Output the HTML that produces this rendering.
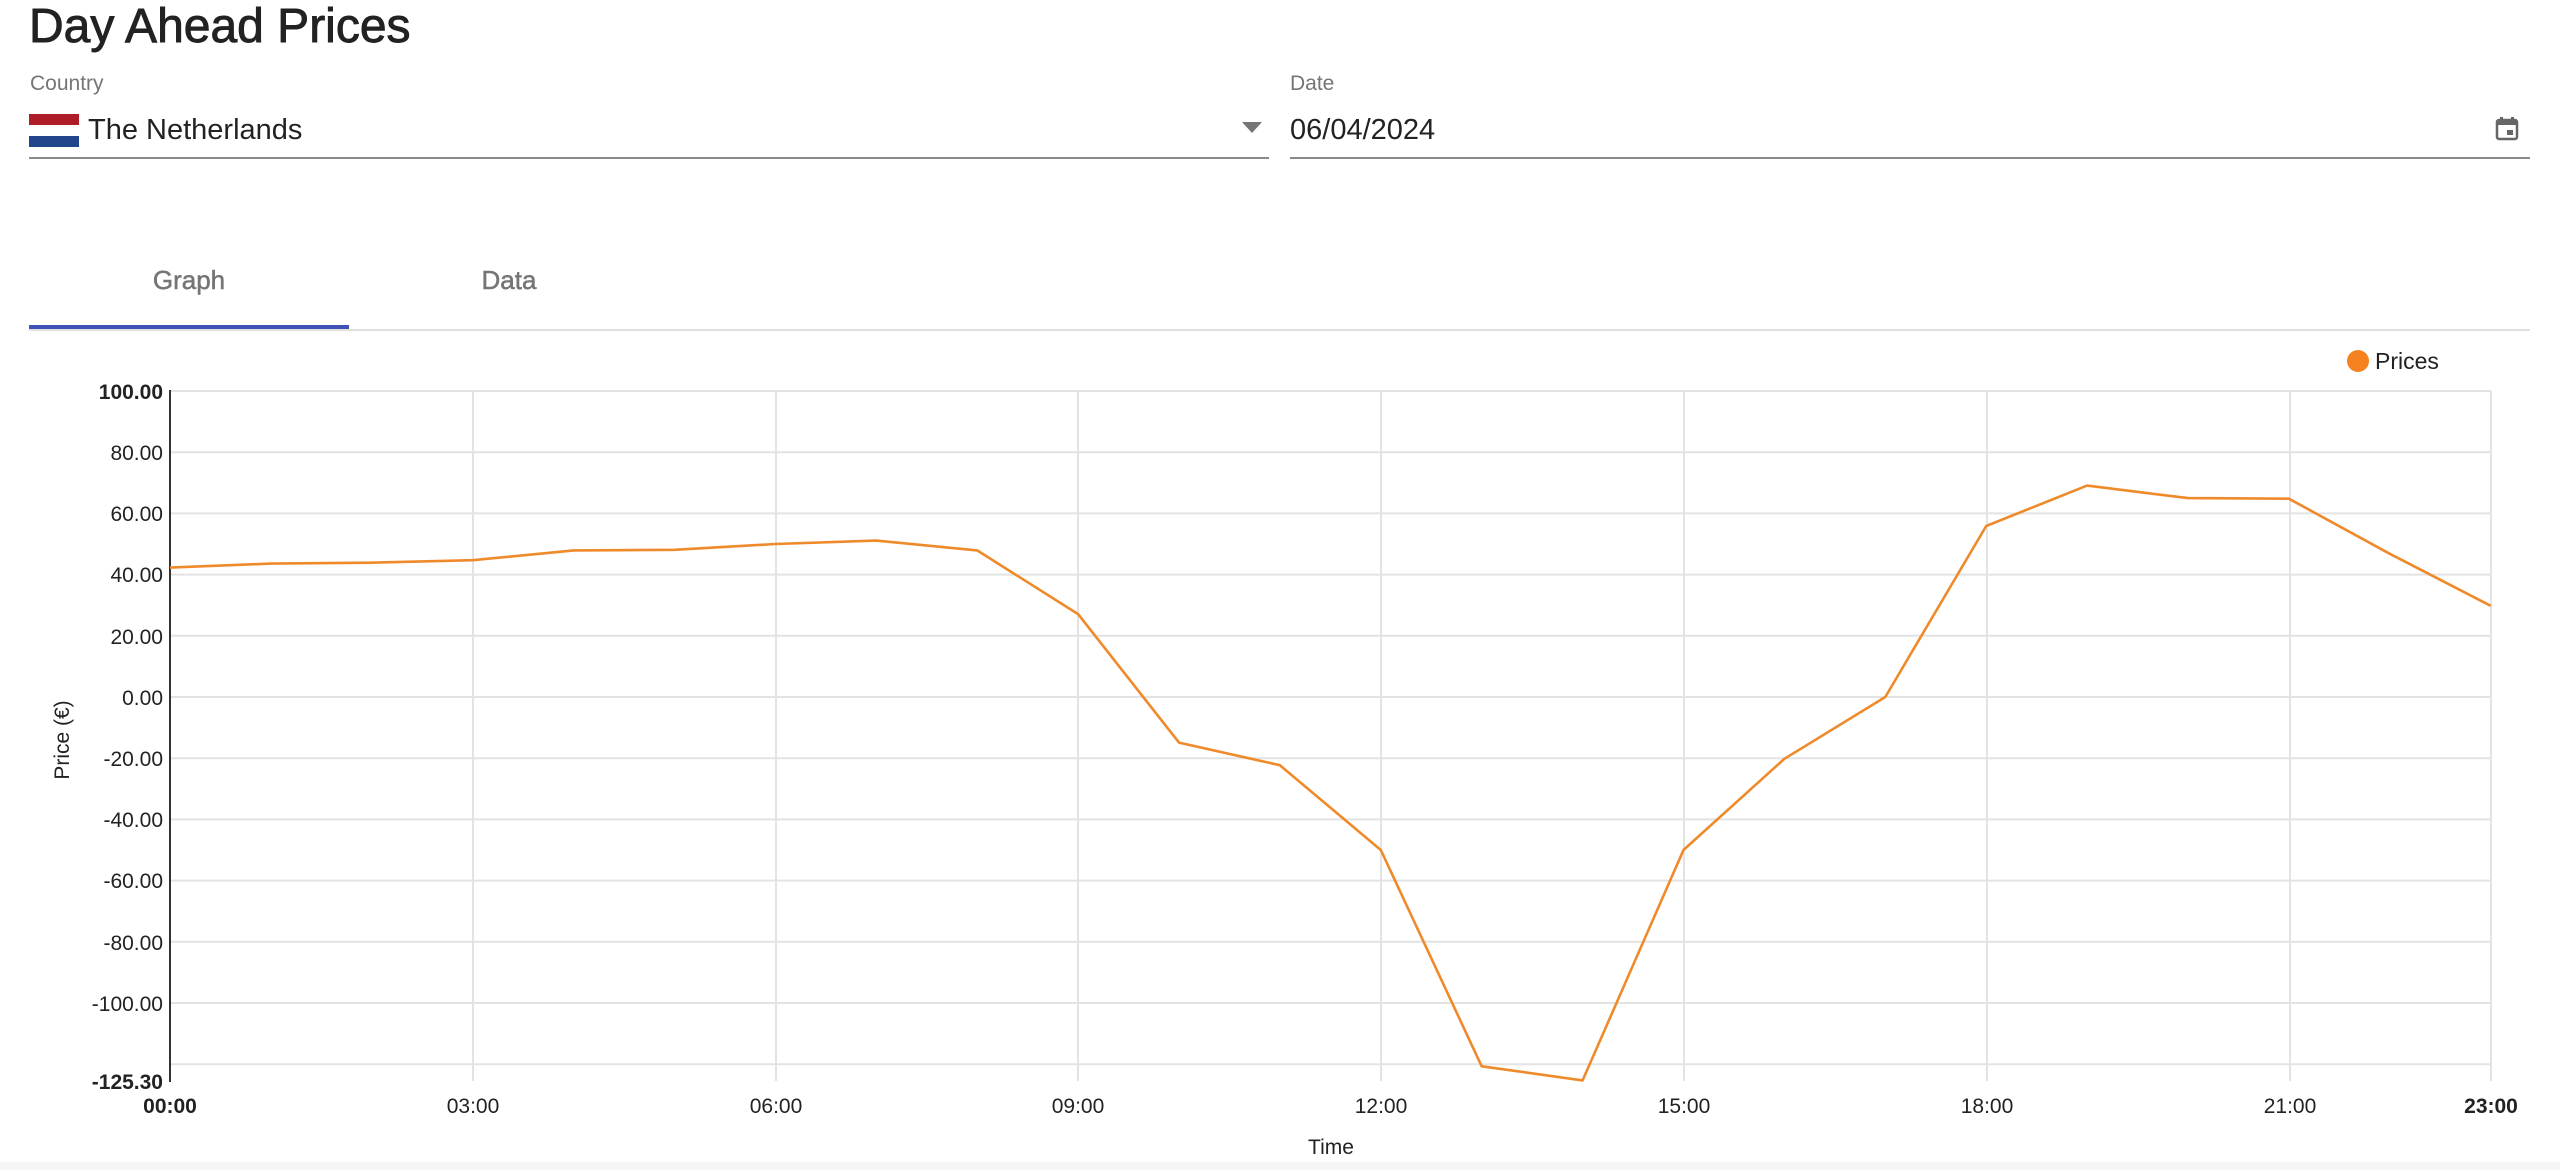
<!DOCTYPE html>
<html><head><meta charset="utf-8"><style>
html,body{margin:0;padding:0;background:#fff;width:2560px;height:1170px;overflow:hidden}
svg{display:block}
text{font-family:"Liberation Sans",sans-serif}
</style></head><body>
<svg width="2560" height="1170" viewBox="0 0 2560 1170" xmlns="http://www.w3.org/2000/svg">
<rect x="0" y="1162" width="2560" height="8" fill="#f5f5f5"/>
<text x="29" y="42" font-size="48" fill="#222" stroke="#222" stroke-width="0.9">Day Ahead Prices</text>
<text x="30" y="90" font-size="21" fill="#757575">Country</text>
<rect x="29" y="114" width="50" height="11" fill="#ae1c28"/>
<rect x="29" y="125" width="50" height="11" fill="#fff"/>
<rect x="29" y="136" width="50" height="11" fill="#21468b"/>
<text x="88" y="139" font-size="29" fill="#222">The Netherlands</text>
<polygon points="1242,122 1262,122 1252,133" fill="#757575"/>
<rect x="29" y="157" width="1240" height="2" fill="#8a8a8a"/>
<text x="1290" y="90" font-size="21" fill="#757575">Date</text>
<text x="1290" y="139" font-size="29" fill="#222">06/04/2024</text>
<g fill="#666"><rect x="2497" y="120" width="20" height="19" rx="2" fill="none" stroke="#666" stroke-width="2.5"/><rect x="2497" y="120" width="20" height="5"/><rect x="2500" y="117" width="3" height="5"/><rect x="2511" y="117" width="3" height="5"/><rect x="2507" y="130" width="6" height="5"/></g>
<rect x="1290" y="157" width="1240" height="2" fill="#8a8a8a"/>
<text x="189" y="289" font-size="26" fill="#757575" stroke="#757575" stroke-width="0.5" text-anchor="middle">Graph</text>
<text x="509" y="289" font-size="26" fill="#757575" stroke="#757575" stroke-width="0.5" text-anchor="middle">Data</text>
<rect x="29" y="329" width="2501" height="2" fill="#e0e0e0"/>
<rect x="29" y="325" width="320" height="4" fill="#3f51b5"/>
<circle cx="2358" cy="361" r="11" fill="#f5821f"/>
<text x="2375" y="369" font-size="23" fill="#222">Prices</text>
<g stroke="#e3e3e3" stroke-width="2">
<line x1="170" x2="2491" y1="391" y2="391"/><line x1="170" x2="2491" y1="452.2" y2="452.2"/><line x1="170" x2="2491" y1="513.4" y2="513.4"/><line x1="170" x2="2491" y1="574.6" y2="574.6"/><line x1="170" x2="2491" y1="635.8" y2="635.8"/><line x1="170" x2="2491" y1="697" y2="697"/><line x1="170" x2="2491" y1="758.2" y2="758.2"/><line x1="170" x2="2491" y1="819.4" y2="819.4"/><line x1="170" x2="2491" y1="880.6" y2="880.6"/><line x1="170" x2="2491" y1="941.8" y2="941.8"/><line x1="170" x2="2491" y1="1003" y2="1003"/><line x1="170" x2="2491" y1="1064.2" y2="1064.2"/>
<line x1="473" x2="473" y1="391" y2="1081"/><line x1="776" x2="776" y1="391" y2="1081"/><line x1="1078" x2="1078" y1="391" y2="1081"/><line x1="1381" x2="1381" y1="391" y2="1081"/><line x1="1684" x2="1684" y1="391" y2="1081"/><line x1="1987" x2="1987" y1="391" y2="1081"/><line x1="2290" x2="2290" y1="391" y2="1081"/><line x1="2491" x2="2491" y1="391" y2="1081"/>
</g>
<line x1="170" x2="170" y1="390" y2="1082" stroke="#333" stroke-width="2"/>
<g font-size="21" fill="#222" text-anchor="end">
<text x="163" y="399" font-weight="bold">100.00</text><text x="163" y="460">80.00</text><text x="163" y="521">60.00</text><text x="163" y="582">40.00</text><text x="163" y="644">20.00</text><text x="163" y="705">0.00</text><text x="163" y="766">-20.00</text><text x="163" y="827">-40.00</text><text x="163" y="888">-60.00</text><text x="163" y="950">-80.00</text><text x="163" y="1011">-100.00</text><text x="163" y="1089" font-weight="bold">-125.30</text>
</g>
<g font-size="21" fill="#222" text-anchor="middle">
<text x="170" y="1113" font-weight="bold">00:00</text><text x="473" y="1113">03:00</text><text x="776" y="1113">06:00</text><text x="1078" y="1113">09:00</text><text x="1381" y="1113">12:00</text><text x="1684" y="1113">15:00</text><text x="1987" y="1113">18:00</text><text x="2290" y="1113">21:00</text><text x="2491" y="1113" font-weight="bold">23:00</text>
<text x="1331" y="1154">Time</text>
<text transform="translate(69,740) rotate(-90)">Price (€)</text>
</g>
<polyline fill="none" stroke="#ef8a2b" stroke-width="2.6" stroke-linejoin="round" points="170,567.6 270.9,563.6 371.8,562.7 472.7,560.2 573.6,550.4 674.5,549.8 775.4,544 876.3,540.6 977.2,550.4 1078.1,614.1 1179,742.6 1279.9,765.2 1380.8,850 1481.7,1066.3 1582.6,1080.4 1683.5,850 1784.4,758.8 1885.3,697 1986.2,526 2087.1,485.6 2188,498.1 2288.9,498.7 2389.8,553.8 2490.7,605.8"/>
</svg>
</body></html>
